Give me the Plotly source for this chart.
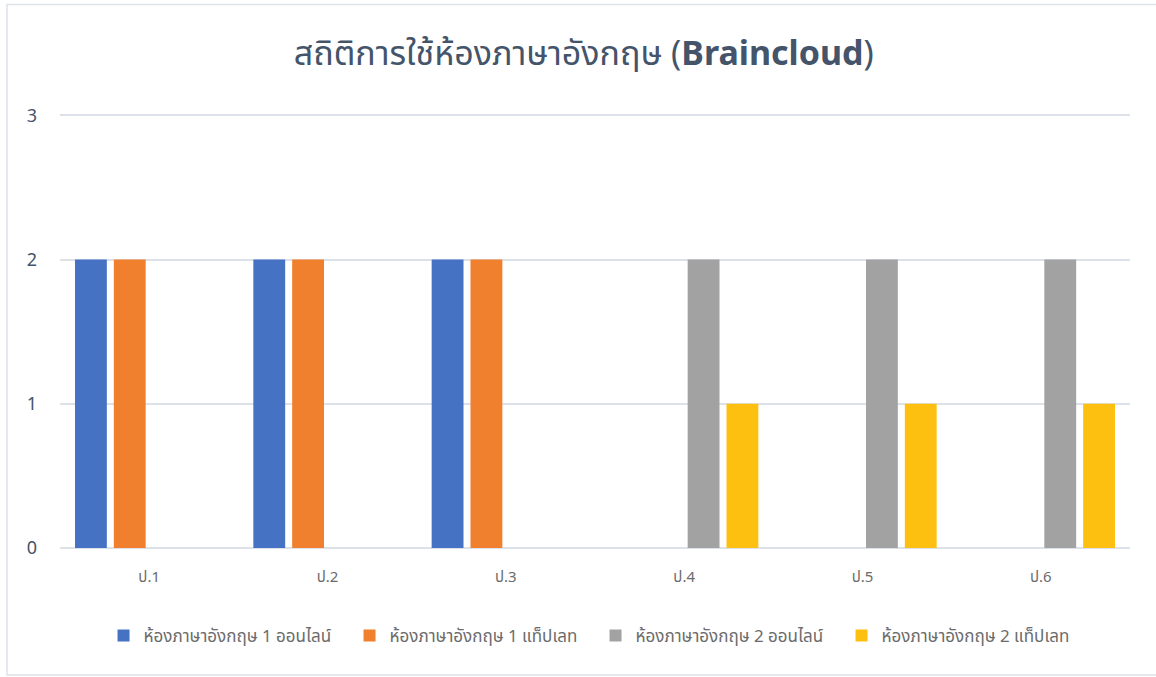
import plotly.graph_objects as go

categories = ["ป.1", "ป.2", "ป.3", "ป.4", "ป.5", "ป.6"]
series_names = [
    "ห้องภาษาอังกฤษ 1 ออนไลน์",
    "ห้องภาษาอังกฤษ 1 แท็ปเลท",
    "ห้องภาษาอังกฤษ 2 ออนไลน์",
    "ห้องภาษาอังกฤษ 2 แท็ปเลท",
]
room1_online = [2, 2, 2, 0, 0, 0]
room1_tablet = [2, 2, 2, 0, 0, 0]
room2_online = [0, 0, 0, 2, 2, 2]
room2_tablet = [0, 0, 0, 1, 1, 1]
y_ticks = [0, 1, 2, 3]

colors = ["#4672C4", "#F07F2E", "#A2A2A2", "#FDC010"]
values = [room1_online, room1_tablet, room2_online, room2_tablet]

fig = go.Figure()
for name, vals, col in zip(series_names, values, colors):
    fig.add_trace(go.Bar(x=categories, y=vals, name=name,
                         marker=dict(color=col, line=dict(width=0))))

font_family = "Noto Sans, Noto Sans Thai, DejaVu Sans, sans-serif"

y_top = 3.03
plot_h = 433 * y_top / 3
top_margin = 548 - plot_h

fig.update_layout(
    width=1156, height=677,
    paper_bgcolor="white", plot_bgcolor="white",
    margin=dict(l=60, r=26, t=top_margin, b=129),
    barmode="group", bargap=0.129, bargroupgap=0.18,
    title=dict(
        text="สถิติการใช้ห้องภาษาอังกฤษ (<b>Braincloud</b>)",
        x=0.505, xanchor="center", y=1 - 53 / 677, yanchor="middle",
        font=dict(size=34, color="#44546A", family=font_family),
    ),
    xaxis=dict(showgrid=False, showline=False, ticks="",
               tickfont=dict(size=15, color="#6B6B6B", family=font_family),
               ticklabelstandoff=18),
    yaxis=dict(range=[0, y_top], tickvals=y_ticks, showgrid=True,
               gridcolor="#DDE2EA", gridwidth=1.5,
               zeroline=True, zerolinecolor="#DDE2EA", zerolinewidth=1.5,
               showline=False, ticks="",
               tickfont=dict(size=18, color="#44546A", family=font_family),
               ticklabelstandoff=22),
    legend=dict(orientation="h", x=0.5005, xanchor="center",
                y=(548 - 636) / plot_h, yanchor="middle",
                font=dict(size=17, color="#6B6B6B", family=font_family),
                entrywidth=201, traceorder="normal"),
    shapes=[dict(type="rect", xref="paper", yref="paper",
                 x0=(7 - 60) / 1070, x1=(1160 - 60) / 1070,
                 y0=(548 - 675) / plot_h, y1=(548 - 4) / plot_h,
                 line=dict(color="#DDE2EA", width=1.5), fillcolor="rgba(0,0,0,0)",
                 layer="below")],
)

fig.write_html("out.html", config={"displayModeBar": False},
               post_script="document.body.style.margin='0';")
